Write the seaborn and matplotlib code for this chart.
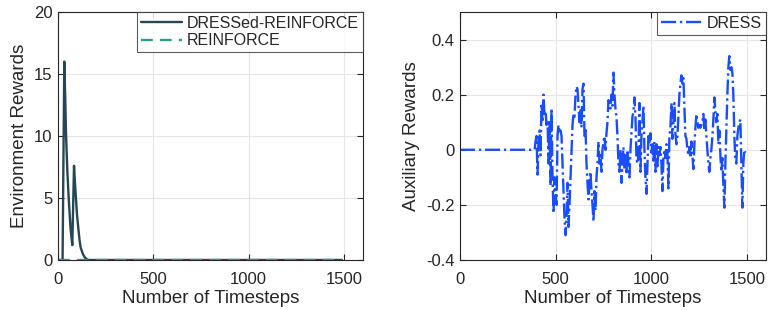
import numpy as np
import pandas as pd
import matplotlib
matplotlib.use("Agg")
import matplotlib.pyplot as plt
import seaborn as sns

# ---------------- data ----------------
env_t = [0, 24, 33, 38, 42, 49, 56, 66, 75, 84, 89, 94, 100, 107, 113, 119, 130, 141, 150, 160, 1490]
env_dressed = [0, 0, 16, 13, 10.2, 7.2, 5, 2.5, 1.2, 7.6, 6.2, 5, 3.6, 2.5, 1.6, 1.0, 0.5, 0.2, 0.08, 0, 0]
reinforce_t = [0, 1490]
reinforce_vals = [0, 0]

aux_zero_t = [0, 390]
aux_zero_vals = [0, 0]
aux_start, aux_end = 395, 1492
aux_vals = [
    0.03, 0.05, -0.09, 0.04, 0.07, -0.02, 0.17, 0.10, 0.20, 0.12,
    0.14, 0.09, 0.11, -0.05, 0.10, -0.13, 0.15, -0.10, -0.23, -0.10,
    -0.15, -0.20, 0.05, 0.09, 0.06, 0.07, 0.05, -0.05, -0.15, -0.25,
    -0.31, -0.25, -0.12, -0.28, -0.20, -0.10, 0.0, 0.09, 0.13, 0.12,
    0.20, 0.23, 0.22, 0.16, 0.10, 0.15, 0.08, 0.22, 0.24, 0.05,
    0.08, -0.05, -0.12, -0.18, -0.12, -0.08, -0.15, -0.20, -0.26, -0.15,
    -0.22, -0.10, -0.05, 0.03, -0.05, -0.02, -0.08, 0.0, 0.03, 0.05,
    0.0, 0.06, 0.10, 0.18, 0.17, 0.15, 0.20, 0.16, 0.28, 0.20,
    0.15, 0.12, 0.05, -0.05, -0.08, 0.0, -0.12, -0.05, 0.01, -0.07,
    -0.02, -0.09, 0.0, -0.05, -0.10, 0.0, 0.06, 0.12, 0.14, 0.19,
    0.12, -0.03, -0.05, -0.02, 0.17, -0.08, 0.05, 0.10, 0.16, 0.0,
    -0.10, -0.16, -0.05, 0.05, 0.02, 0.06, -0.01, 0.02, -0.04, 0.03,
    -0.08, 0.02, -0.06, 0.01, -0.02, 0.01, -0.05, -0.15, -0.03, 0.0,
    -0.03, 0.02, -0.01, -0.14, 0.05, 0.08, 0.17, 0.04, 0.10, 0.17,
    0.06, 0.02, 0.05, 0.12, 0.20, 0.24, 0.27, 0.24, 0.26, 0.15,
    0.05, 0.04, 0.0, -0.02, 0.01, -0.03, 0.03, -0.02, -0.07, 0.02,
    0.08, 0.13, 0.10, 0.08, 0.09, 0.08, 0.09, 0.10, 0.13, 0.07,
    0.11, 0.05, 0.0, -0.05, -0.08, -0.03, 0.0, 0.05, 0.11, 0.19,
    0.14, 0.10, 0.13, 0.02, 0.07, -0.02, -0.08, -0.03, -0.13, -0.21,
    -0.05, 0.08, 0.20, 0.30, 0.34, 0.29, 0.30, 0.28, 0.20, 0.05,
    -0.04, -0.05, 0.05, 0.08, 0.10, 0.11, -0.05, -0.21, -0.05, 0.0,
    -0.01,
]
aux_t = np.linspace(aux_start, aux_end, len(aux_vals))
aux_all_t = np.concatenate([aux_zero_t, aux_t])
aux_all_v = np.concatenate([aux_zero_vals, aux_vals])

x_ticks = [0, 500, 1000, 1500]
env_yticks = [0, 5, 10, 15, 20]
aux_yticks = [-0.4, -0.2, 0, 0.2, 0.4]
aux_yticklabels = ["-0.4", "-0.2", "0", "0.2", "0.4"]

# ---------------- style ----------------
sns.set_theme(style="whitegrid")
plt.rcParams['font.family'] = ['Liberation Sans', 'DejaVu Sans']

fig = plt.figure(figsize=(7.8, 3.1), dpi=100)
ax1 = fig.add_axes([58 / 780, 50 / 310, 305 / 780, 248 / 310])
ax2 = fig.add_axes([460 / 780, 50 / 310, 306 / 780, 248 / 310])

c_dressed = "#264653"
c_reinf = "#2a9d8f"
c_aux = "#1a4dff"

sns.lineplot(x=env_t, y=env_dressed, ax=ax1, color=c_dressed, lw=1.7,
             label="DRESSed-REINFORCE", estimator=None, sort=False)
sns.lineplot(x=reinforce_t, y=reinforce_vals, ax=ax1, color=c_reinf, lw=1.7,
             linestyle=(0, (5, 3)), label="REINFORCE", estimator=None, sort=False)

sns.lineplot(x=aux_all_t, y=aux_all_v, ax=ax2, color=c_aux, lw=1.7,
             linestyle="-.", label="DRESS", estimator=None, sort=False)

for ax in (ax1, ax2):
    ax.set_xlim(0, 1600)
    ax.set_xticks(x_ticks)
    ax.set_xlabel("Number of Timesteps", fontsize=13.5, color="#262626", labelpad=1.5)
    ax.grid(True, color="#e6e6e6", lw=0.8)
    ax.set_facecolor("white")
    for s in ax.spines.values():
        s.set_visible(True)
        s.set_color("#262626")
        s.set_linewidth(0.8)
    ax.tick_params(direction="in", length=4, width=0.8, top=True, right=True,
                   bottom=True, left=True, labelsize=12, colors="#262626",
                   pad=4)
    ax.tick_params(axis="x", pad=9)

ax1.set_ylim(0, 20)
ax1.set_yticks(env_yticks)
ax1.set_ylabel("Environment Rewards", fontsize=13.5, color="#262626", labelpad=4)

ax2.set_ylim(-0.4, 0.5)
ax2.set_yticks(aux_yticks)
ax2.set_yticklabels(aux_yticklabels)
ax2.set_ylabel("Auxiliary Rewards", fontsize=13.5, color="#262626", labelpad=4)

for ax in (ax1, ax2):
    leg = ax.legend(loc="upper right", fontsize=11.5, frameon=True, fancybox=False,
                    borderaxespad=0, borderpad=0.25, handlelength=2.6,
                    handletextpad=0.3, labelspacing=0.15)
    leg.get_frame().set_edgecolor("#333333")
    leg.get_frame().set_linewidth(0.8)

fig.savefig("out.png", dpi=100)
